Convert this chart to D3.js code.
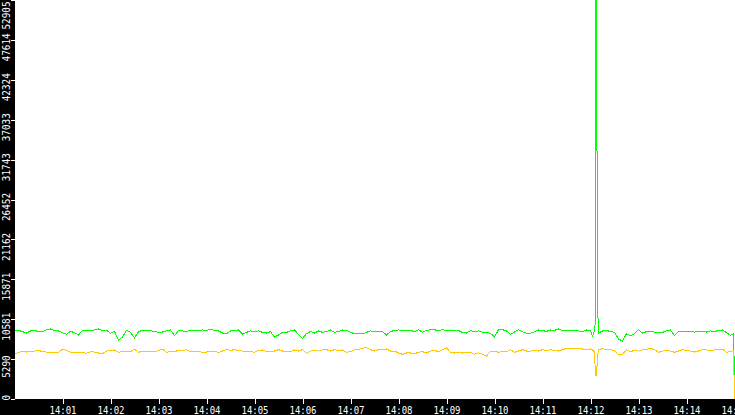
<!DOCTYPE html>
<html><head><meta charset="utf-8">
<script src="https://cdn.jsdelivr.net/npm/d3@7"></script>
<style>html,body{margin:0;padding:0;background:#fff;overflow:hidden}</style>
</head><body><svg id="c" width="735" height="415"></svg>
<script>
// ---- data ----
const startTime = "14:00:00";
const endTime = "14:15:00";
const stepSeconds = 5;   // regular sample interval of the series below
const yMax = 52905;
const yTickLabels = ["0","5290","10581","15871","21162","26452","31743","37033","42324","47614","52905"];
const xTickLabels = ["14:01","14:02","14:03","14:04","14:05","14:06","14:07","14:08","14:09","14:10","14:11","14:12","14:13","14:14","14:15"];

// green series, one value every 5 s (null = see detail arrays)
const greenValues = [
9060,9100,8930,8750,9020,9060,8970,8930,9190,9280,9100,9020,8800,8570,8970,8800,8490,9100,9060,9060,
9150,9280,9060,9100,8710,8970,7780,8220,9100,8840,8130,8930,9100,9020,9060,8930,8840,8880,9020,9150,
8400,9060,9020,8970,9100,9100,9100,
9150,9100,9240,9100,9020,8750,8660,9020,9020,9150,8620,8840,9020,8930,9020,8840,8750,8930,8220,8490,
8840,8840,9020,9150,8570,8040,8660,8970,8750,9020,8840,8930,9150,8840,8930,9150,9100,8840,8660,8710,
8620,8840,9020,8970,8930,8930,
8490,8930,9100,9150,9060,9020,9100,8930,9190,8840,9100,9190,9190,9020,9240,9020,9100,9020,9100,8800,
8750,9060,8930,9020,8880,8840,8710,8220,9190,9190,9020,8570,8880,9190,8930,8710,8710,8930,9150,9060,
8970,9150,9100,9280,9060,9100,
9020,9020,9020,8930,9150,9100,null,null,9020,9060,8970,8840,7960,7690,8660,8400,8660,9190,8750,8930,
8970,8880,8840,8840,9020,9150,8400,8970,8930,8930,8930,8880,8930,8970,8880,9020,8970,9060,9150,8800,
8440,2920
];
// green detail points (seconds after start) around the 14:12 spike and the end drop
const greenDetailSeconds = [722.5, 725, 726.25, 726.25, 727.5, 727.5, 728.75, 728.75, 730, 898.75];
const greenDetailValues  = [8350, 9020, 10600, 52905, 52905, 33020, 32750, 12860, 8750, 8620];

// orange series, one value every 5 s
const orangeValues = [
5920,6190,6280,6230,6360,6360,6450,6280,6230,6100,6190,6190,6590,6450,6190,6190,6190,6140,6060,6280,
6230,6100,6010,6360,6450,6500,6190,6280,6360,6280,6590,6190,6360,6320,6280,6280,6410,6590,6190,6280,
6280,6450,6410,6540,6280,6360,6320,
6190,6230,6360,6360,6140,6360,6590,6450,6540,6450,6360,6360,6280,6190,6450,6500,6280,6360,6360,6540,
6360,6360,6280,6500,6360,6540,6060,6360,6450,6360,6500,6540,6360,6540,6450,6500,6190,6280,6540,6590,
6720,6810,6540,6360,6540,6590,
6630,6360,6360,6100,5920,6100,6100,6010,6190,6280,6100,6360,6450,6280,6540,6760,6190,6100,6190,6100,
6190,6190,5920,6140,5920,5660,6360,6360,6190,6280,6280,6540,6190,6360,6540,6360,6360,6410,6360,6540,
6450,6540,6410,6360,6540,6720,
6670,6670,6630,6630,6540,6630,null,null,6670,6540,6540,6450,5920,5920,6540,6280,6450,6360,6500,6590,
6720,6540,6190,6360,6450,6360,6190,6360,6540,6410,6360,6230,6360,6590,6500,6410,6500,6540,6590,6190,
6280,0
];
const orangeDetailSeconds = [722.5, 725, 726.25, 727.5, 728.75, 730, 898.75];
const orangeDetailValues  = [6500, 6230, 3050, 3050, 5700, 6500, 6450];

// ---- chart ----
const W = 735, H = 415;
const parse = d3.timeParse("%H:%M:%S");
const t0 = parse(startTime), t1 = parse(endTime);
const toDate = s => new Date(t0.getTime() + s * 1000);

function series(vals, detS, detV) {
  const pts = [];
  vals.forEach((v, i) => { if (v !== null) pts.push({t: toDate(i * stepSeconds), v, o: i}); });
  detS.forEach((s, i) => pts.push({t: toDate(s), v: detV[i], o: 1000 + i}));
  pts.sort((a, b) => (a.t - b.t) || (a.o - b.o));
  return pts;
}
const green = series(greenValues, greenDetailSeconds, greenDetailValues);
const orange = series(orangeValues, orangeDetailSeconds, orangeDetailValues);

const x = d3.scaleTime().domain([t0, t1]).range([14.5, 734.5]);
const y = d3.scaleLinear().domain([0, yMax]).range([399, 0]);

const svg = d3.select("#c");
const line = d3.line().x(d => x(d.t)).y(d => y(d.v));

svg.append("path").datum(green).attr("d", line)
  .attr("fill", "none").attr("stroke", "#00ff00").attr("stroke-width", 1)
  .attr("shape-rendering", "crispEdges");
svg.append("path").datum(orange).attr("d", line)
  .attr("fill", "none").attr("stroke", "#ffc800").attr("stroke-width", 1)
  .attr("shape-rendering", "crispEdges");

// black bands
svg.append("rect").attr("x", 0).attr("y", 0).attr("width", 15).attr("height", H).attr("fill", "#000");
svg.append("rect").attr("x", 0).attr("y", 399).attr("width", W).attr("height", H - 399).attr("fill", "#000");

// bottom axis
const xAxis = d3.axisBottom(x)
  .tickValues(xTickLabels.map(l => parse(l + ":00")))
  .tickFormat(d3.timeFormat("%H:%M"))
  .tickSize(5).tickPadding(0);
const gx = svg.append("g").attr("transform", "translate(0,399)").call(xAxis);
gx.select(".domain").remove();
gx.selectAll(".tick line").attr("stroke", "#fff").attr("shape-rendering", "crispEdges");
gx.selectAll(".tick text")
  .attr("fill", "#fff").attr("y", 0).attr("dy", 0)
  .attr("transform", "translate(0,14.5) scale(0.9,1)")
  .style("font-family", "'DejaVu Sans Mono', monospace").style("font-size", "10px");

// left axis
const yAxis = d3.axisLeft(y)
  .tickValues(yTickLabels.map(Number))
  .tickFormat((d, i) => yTickLabels[i])
  .tickSize(4).tickPadding(0);
const gy = svg.append("g").attr("transform", "translate(15,0)").call(yAxis);
gy.select(".domain").remove();
gy.selectAll(".tick line").attr("stroke", "#fff").attr("shape-rendering", "crispEdges");
gy.selectAll(".tick text").each(function(d, i) {
  const ty = y(d);
  const half = yTickLabels[i].length * 5.6 / 2;
  const cy = Math.max(half + 1, Math.min(400 - half, ty + 7));
  d3.select(this)
    .attr("x", 0).attr("y", 0).attr("dy", 0).attr("text-anchor", "middle")
    .attr("fill", "#fff")
    .attr("transform", `translate(-5,${cy - ty}) rotate(-90) scale(0.85,1)`)
    .style("font-family", "'DejaVu Sans Mono', monospace").style("font-size", "11px");
});
</script>
</body></html>
